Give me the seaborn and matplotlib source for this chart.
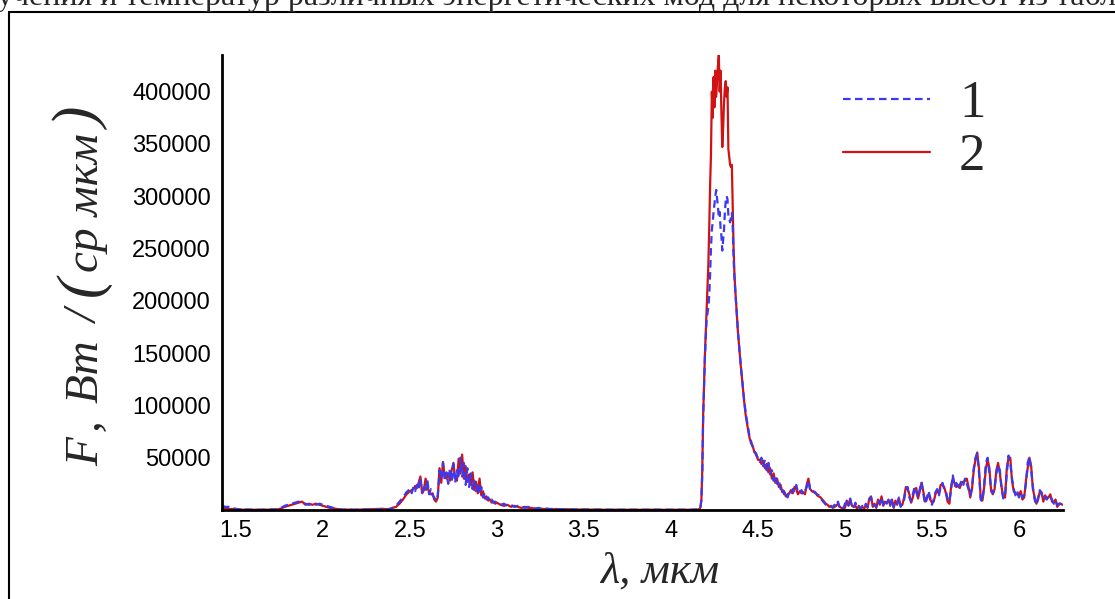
import matplotlib
matplotlib.use("Agg")
import numpy as np
import pandas as pd
import matplotlib.pyplot as plt
import seaborn as sns
from matplotlib.ticker import MultipleLocator, FixedLocator, FuncFormatter
from matplotlib.lines import Line2D
from matplotlib.font_manager import FontProperties

# ---------------- data (wavelength in µm, flux in thousands W/(sr·µm)) ----------------
# segment 1: 1.42 - 2.36 µm
wl_a = [1.42, 1.44, 1.46, 1.48, 1.50, 1.52, 1.54, 1.56, 1.58, 1.60,
        1.62, 1.64, 1.66, 1.68, 1.70, 1.72, 1.74, 1.76, 1.78, 1.80,
        1.82, 1.84, 1.86, 1.88, 1.90, 1.92, 1.94, 1.96, 1.98, 2.00,
        2.02, 2.04, 2.06, 2.08, 2.10, 2.12, 2.14, 2.16, 2.18, 2.20,
        2.22, 2.24, 2.26, 2.28, 2.30, 2.32, 2.34, 2.36]
f1_a = [4, 3, 3, 2, 1, 0.5, 0.3, 0.5, 0.3, 0.2,
        0.3, 0.2, 0.4, 0.3, 0.5, 0.5, 0.8, 2, 4, 5,
        6, 7, 8, 7, 6, 5, 6, 5, 6, 5,
        4, 3, 2, 1, 0.5, 0.3, 0.5, 0.3, 0.2, 0.4,
        0.3, 0.5, 0.3, 0.4, 0.6, 0.5, 0.8, 0.6]
f2_a = [2, 2, 1, 1, 1, 0.5, 0.3, 0.4, 0.3, 0.2,
        0.3, 0.2, 0.3, 0.3, 0.4, 0.4, 0.6, 1.5, 3, 4,
        5, 6, 7, 8, 5, 6, 5, 6, 5, 4,
        3, 2, 1.5, 1, 0.5, 0.3, 0.4, 0.3, 0.2, 0.3,
        0.3, 0.4, 0.5, 0.6, 0.8, 1, 1.2, 0.8]

# segment 2: 2.7 µm band
wl_b = [2.38, 2.40, 2.42, 2.44, 2.46, 2.48, 2.50,
        2.51, 2.52, 2.53, 2.54, 2.55, 2.56, 2.57, 2.58, 2.59, 2.60,
        2.61, 2.62, 2.63, 2.64, 2.65, 2.66, 2.67, 2.68, 2.69, 2.70,
        2.71, 2.72, 2.73, 2.74, 2.75, 2.76, 2.77, 2.78, 2.79, 2.80,
        2.81, 2.82, 2.83, 2.84, 2.85, 2.86, 2.87, 2.88, 2.89, 2.90,
        2.91, 2.92, 2.93, 2.94, 2.95, 2.96, 2.97, 2.98, 2.99, 3.00,
        3.02, 3.04, 3.06, 3.08, 3.10, 3.12, 3.14, 3.16, 3.18, 3.20,
        3.22, 3.24, 3.26, 3.28, 3.30, 3.32, 3.34]
f1_b = [0.5, 2, 4, 8, 12, 17, 20,
        16, 22, 18, 24, 20, 31, 17, 22, 18, 29,
        15, 20, 14, 12, 9, 14, 38, 30, 45, 28,
        36, 25, 40, 27, 44, 26, 38, 30, 50, 32,
        45, 24, 40, 22, 35, 20, 28, 18, 26, 15,
        22, 12, 16, 10, 12, 8, 10, 7, 8, 6,
        5, 6, 4, 5, 3, 4, 3, 2, 3, 2,
        1.5, 2, 1, 1.5, 1, 1, 0.5]
f2_b = [1, 2, 3, 6, 10, 15, 18,
        19, 20, 23, 21, 26, 32, 16, 19, 30, 22,
        17, 15, 16, 10, 8, 12, 40, 26, 46, 32,
        30, 35, 28, 38, 45, 30, 28, 49, 35, 53,
        30, 42, 27, 34, 24, 36, 19, 27, 16, 30,
        14, 18, 11, 13, 9, 10, 7, 8, 6, 7,
        5, 4, 5, 3, 4, 3, 2, 3, 2, 2,
        1, 1.5, 1, 1, 1, 0.5, 1]

# segment 3: quiet gap
wl_c = [3.36, 3.40, 3.44, 3.48, 3.52, 3.56, 3.60, 3.64, 3.68, 3.72,
        3.76, 3.80, 3.84, 3.88, 3.92, 3.96, 4.00, 4.04, 4.08, 4.12, 4.16]
f1_c = [0.8, 0.5, 0.6, 0.4, 0.5, 0.3, 0.4, 0.3, 0.2, 0.3,
        0.2, 0.3, 0.2, 0.2, 0.3, 0.2, 0.2, 0.3, 0.2, 0.3, 0.5]
f2_c = [0.6, 0.7, 0.4, 0.5, 0.3, 0.4, 0.3, 0.2, 0.3, 0.2,
        0.3, 0.2, 0.2, 0.3, 0.2, 0.2, 0.3, 0.2, 0.3, 0.2, 0.5]

# segment 4: 4.3 µm peak
wl_d = [4.165, 4.170, 4.175, 4.180, 4.185, 4.190, 4.195, 4.200, 4.205, 4.210,
        4.215, 4.220, 4.225, 4.230, 4.235, 4.240, 4.245, 4.250, 4.255, 4.260,
        4.265, 4.270, 4.275, 4.280, 4.285, 4.290, 4.295, 4.300, 4.305, 4.310,
        4.315, 4.320, 4.325, 4.330, 4.335, 4.340, 4.345, 4.350, 4.355, 4.360,
        4.365, 4.370, 4.375, 4.380, 4.385, 4.390, 4.395, 4.400,
        4.41, 4.42, 4.43, 4.44, 4.45, 4.46, 4.47, 4.48, 4.49, 4.50]
f1_d = [1, 3, 10, 35, 88, 118, 145, 165, 182, 188,
        194, 205, 225, 250, 268, 275, 285, 293, 300, 306,
        298, 290, 280, 285, 270, 262, 248, 258, 268, 285,
        296, 300, 297, 282, 278, 275, 280, 284, 270, 240,
        222, 208, 196, 184, 170, 161, 150, 141,
        122, 106, 92, 82, 72, 66, 60, 57, 52, 50]
f2_d = [1, 3, 10, 38, 90, 120, 148, 170, 192, 212,
        235, 270, 310, 340, 400, 375, 414, 385, 420, 395,
        410, 425, 435, 400, 420, 380, 347, 365, 390, 404,
        410, 395, 404, 345, 337, 330, 328, 330, 290, 250,
        225, 210, 197, 185, 170, 160, 150, 140,
        122, 105, 90, 80, 70, 64, 61, 55, 54, 48]

# segment 5: tail and 5.5-6.2 µm band
wl_e = [4.51, 4.52, 4.53, 4.54, 4.55, 4.56, 4.57, 4.58, 4.59, 4.60,
        4.61, 4.62, 4.63, 4.64, 4.65, 4.66, 4.67, 4.68, 4.69, 4.70,
        4.71, 4.72, 4.73, 4.74, 4.75, 4.76, 4.77, 4.78, 4.79, 4.80,
        4.81, 4.82, 4.83, 4.84, 4.85, 4.86, 4.87, 4.88, 4.89, 4.90,
        4.91, 4.92, 4.93, 4.94, 4.95, 4.96, 4.97, 4.98, 4.99, 5.00,
        5.01, 5.02, 5.03, 5.04, 5.05, 5.06, 5.07, 5.08, 5.09, 5.10,
        5.11, 5.12, 5.13, 5.14, 5.15, 5.16, 5.17, 5.18, 5.19, 5.20,
        5.21, 5.22, 5.23, 5.24, 5.25, 5.26, 5.27, 5.28, 5.29, 5.30,
        5.31, 5.32, 5.33, 5.34, 5.35, 5.36, 5.37, 5.38, 5.39, 5.40,
        5.41, 5.42, 5.43, 5.44, 5.45, 5.46, 5.47, 5.48, 5.49, 5.50,
        5.51, 5.52, 5.53, 5.54, 5.55, 5.56, 5.57, 5.58, 5.59, 5.60,
        5.61, 5.62, 5.63, 5.64, 5.65, 5.66, 5.67, 5.68, 5.69, 5.70,
        5.71, 5.72, 5.73, 5.74, 5.75, 5.76, 5.77, 5.78, 5.79, 5.80,
        5.81, 5.82, 5.83, 5.84, 5.85, 5.86, 5.87, 5.88, 5.89, 5.90,
        5.91, 5.92, 5.93, 5.94, 5.95, 5.96, 5.97, 5.98, 5.99, 6.00,
        6.01, 6.02, 6.03, 6.04, 6.05, 6.06, 6.07, 6.08, 6.09, 6.10,
        6.11, 6.12, 6.13, 6.14, 6.15, 6.16, 6.17, 6.18, 6.19, 6.20,
        6.21, 6.22, 6.23, 6.24, 6.25]
f1_e = [46, 50, 42, 48, 38, 45, 34, 38, 28, 33,
        25, 28, 20, 22, 15, 18, 12, 17, 15, 20,
        18, 24, 17, 16, 19, 15, 18, 22, 28, 19,
        17, 18, 16, 15, 14, 11, 9, 7, 5, 4,
        4, 3, 3, 5, 3, 8, 2, 3, 1, 6,
        10, 4, 11, 3, 2, 7, 2, 3, 1, 4,
        2, 6, 3, 10, 12, 4, 5, 3, 9, 6,
        12, 5, 9, 6, 10, 4, 11, 3, 8, 6,
        12, 3, 6, 10, 20, 22, 12, 8, 15, 22,
        17, 12, 20, 27, 16, 6, 10, 18, 12, 5,
        10, 17, 20, 14, 22, 26, 20, 18, 10, 8,
        20, 33, 22, 26, 20, 24, 28, 24, 30, 25,
        20, 14, 22, 40, 50, 54, 36, 10, 8, 25,
        45, 50, 35, 20, 16, 22, 35, 43, 38, 20,
        11, 14, 35, 52, 45, 30, 20, 14, 18, 12,
        16, 12, 14, 25, 45, 51, 38, 22, 10, 5,
        12, 19, 15, 10, 12, 10, 14, 13, 10, 6,
        9, 5, 5, 7, 6]
f2_e = [48, 44, 47, 40, 44, 36, 40, 30, 35, 26,
        30, 22, 24, 17, 18, 13, 15, 16, 19, 16,
        22, 20, 15, 18, 16, 17, 15, 24, 30, 20,
        18, 17, 17, 14, 13, 12, 10, 8, 6, 5,
        3, 4, 2, 3, 4, 6, 3, 2, 2, 2,
        9, 5, 10, 4, 3, 4, 1, 4, 2, 3,
        1, 5, 2, 11, 13, 3, 6, 2, 10, 5,
        13, 4, 8, 7, 9, 5, 10, 2, 9, 5,
        11, 4, 5, 12, 22, 20, 15, 7, 12, 20,
        21, 11, 18, 26, 18, 8, 12, 15, 10, 7,
        8, 15, 18, 16, 24, 24, 22, 16, 8, 6,
        22, 31, 25, 22, 24, 21, 26, 27, 28, 30,
        22, 12, 20, 38, 48, 55, 40, 12, 9, 22,
        40, 48, 40, 18, 15, 20, 38, 45, 35, 22,
        12, 12, 40, 50, 50, 28, 18, 16, 15, 14,
        18, 10, 12, 28, 40, 50, 42, 20, 12, 6,
        10, 18, 17, 8, 14, 11, 12, 15, 8, 7,
        10, 3, 6, 6, 5]

series_labels = ["1", "2"]
x_ticks = [1.5, 2, 2.5, 3, 3.5, 4, 4.5, 5, 5.5, 6]
y_ticks = [50000, 100000, 150000, 200000, 250000, 300000, 350000, 400000]
x_label = "λ, мкм"
y_label_parts = ["F", ",", "Вт", "/", "(", "ср мкм", ")"]
page_text = "учения и температур различных энергетических мод для некоторых высот из табл"

# ---------------- assemble ----------------
wl = wl_a + wl_b + wl_c + wl_d + wl_e
f1 = f1_a + f1_b + f1_c + f1_d + f1_e
f2 = f2_a + f2_b + f2_c + f2_d + f2_e
assert len(wl) == len(f1) == len(f2)
df = pd.DataFrame({"wl": wl,
                   "F1": np.array(f1, dtype=float) * 1000.0,
                   "F2": np.array(f2, dtype=float) * 1000.0})

BLUE = "#3a3af2"
RED = "#d01212"

sns.set_style("white")
plt.rcParams["font.family"] = ["Liberation Sans", "DejaVu Sans"]

W, H = 1115, 599
fig = plt.figure(figsize=(W / 100, H / 100), dpi=100)
L, R, T, B = 222, 1063, 55, 510
ax = fig.add_axes([L / W, 1 - B / H, (R - L) / W, (B - T) / H])

sns.lineplot(data=df, x="wl", y="F2", color=RED, linewidth=1.6,
             estimator=None, sort=False, ax=ax)
sns.lineplot(data=df, x="wl", y="F1", color=BLUE, linewidth=1.6,
             estimator=None, sort=False, ax=ax)
lines = ax.get_lines()
red_line, blue_line = lines[0], lines[1]
blue_line.set_dashes([3.4, 2.0])

ax.set_xlim(1.42, 6.253)
ax.set_ylim(0, 435000)

ax.xaxis.set_major_locator(FixedLocator(x_ticks))
ax.xaxis.set_minor_locator(MultipleLocator(0.1))
ax.xaxis.set_major_formatter(FuncFormatter(lambda v, p: f"{v:g}"))
ax.yaxis.set_major_locator(FixedLocator(y_ticks))
ax.yaxis.set_minor_locator(MultipleLocator(10000))
ax.yaxis.set_major_formatter(FuncFormatter(lambda v, p: f"{int(v)}"))

ax.tick_params(which="major", direction="in", length=10, width=1.5,
               labelsize=17, pad=8, colors="black")
ax.tick_params(which="minor", direction="in", length=5, width=1.2)
ax.tick_params(axis="x", which="major", pad=7)
for s in ["top", "right"]:
    ax.spines[s].set_visible(False)
for s in ["left", "bottom"]:
    ax.spines[s].set_linewidth(2)
    ax.spines[s].set_color("black")

serif_it = dict(family=["Liberation Serif", "DejaVu Serif"], style="italic")
ax.set_xlabel(x_label, fontsize=32, **serif_it)
ax.xaxis.set_label_coords((660 - L) / (R - L), -(552 - B) / (B - T))
ax.set_ylabel("")

leg = ax.legend(handles=[blue_line, red_line], labels=series_labels,
                frameon=False,
                prop=FontProperties(family="Liberation Serif", size=38),
                handlelength=1.65, handletextpad=0.55, labelspacing=0.1,
                borderpad=0, borderaxespad=0,
                loc="upper left", bbox_to_anchor=(843 / W, 1 - 80 / H),
                bbox_transform=fig.transFigure)

# y-axis title built from pieces (larger brackets), rotated, sharing one baseline
fig.canvas.draw()
renderer = fig.canvas.get_renderer()
sizes = [34, 34, 34, 34, 44, 34, 44]
gaps = [6, 16, 16, 14, 4, 4, 0]
y_cur = 1 - 466 / H
for txt, sz, gp in zip(y_label_parts, sizes, gaps):
    t = fig.text(98 / W, y_cur, txt, rotation=90, rotation_mode="anchor",
                 ha="left", va="baseline", fontsize=sz, **serif_it)
    bb = t.get_window_extent(renderer)
    y_cur += (bb.height + gp) / H

# page fragment: frame and cut-off line of text above the figure
fig.add_artist(Line2D([9 / W, 9 / W], [0, 1 - 12 / H], transform=fig.transFigure,
                      color="black", lw=1.5))
fig.add_artist(Line2D([9 / W, 1], [1 - 12 / H, 1 - 12 / H], transform=fig.transFigure,
                      color="black", lw=1.5))
fig.text(-3 / W, 1 - 5 / H, page_text,
         family=["Liberation Serif", "DejaVu Serif"], fontsize=23, va="baseline", ha="left")

fig.savefig("out.png", dpi=100)
